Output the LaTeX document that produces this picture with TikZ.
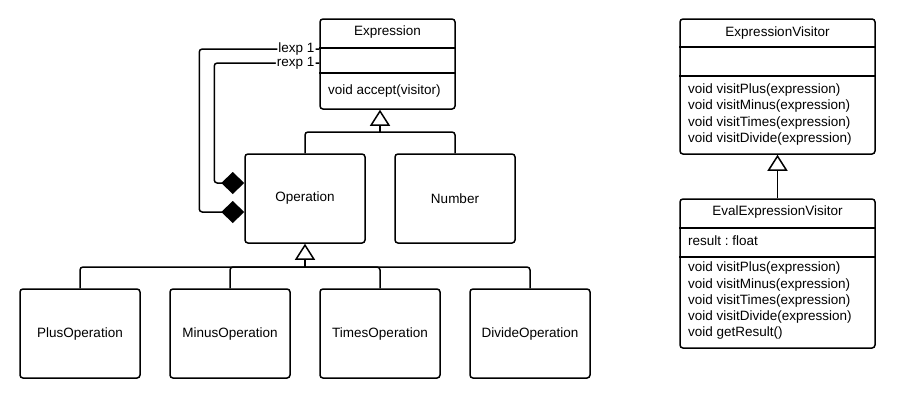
\documentclass[tikz,border=0pt]{standalone}
\usepackage{fontspec}
\setmainfont{Liberation Sans}
\usetikzlibrary{arrows.meta}
\frenchspacing

\newcommand{\umlfont}{\fontsize{13.5}{16.2}\selectfont}

\tikzstyle{classbox} = [rectangle, draw, line width=1.5pt, rounded corners=3pt,
align=center, inner sep=0pt, font=\umlfont]
\tikzstyle{title} = [inner sep=0pt, font=\umlfont]
\tikzstyle{members} = [inner sep=0pt, align=left, anchor=west, font=\umlfont]
\tikzstyle{divider} = [draw, line width=1.5pt]
\tikzstyle{line} = [draw, line width=1.5pt, rounded corners=3pt]
\tikzstyle{inherit} = [line, -{Triangle[open,length=16pt,width=20pt]}]
\tikzstyle{aggregate} = [line, -{Diamond[length=23pt,width=22pt]}]
\tikzstyle{role} = [anchor=east, xshift=-3pt, fill=white, inner sep=1pt, font=\umlfont]

\begin{document}
\begin{tikzpicture}[x=1pt,y=-1pt]

\useasboundingbox (0,0) rectangle (904,400);

% Top
\node[classbox, minimum width=135pt, minimum height=90pt](expression) at (387.5,64) {};
\node[title](expressionTitle) at (387.5,32) {Expression};
\node[members](expressionOps) at (328,91) {void accept(visitor)};
\draw[divider] (expression.west |- 0,48) -- (expression.east |- 0,48);
\draw[divider] (expression.west |- 0,73) -- (expression.east |- 0,73);

% Middle
\node[classbox, minimum width=120pt, minimum height=89pt](operation) at (305,198.5) {Operation};
\node[classbox, minimum width=120pt, minimum height=89pt](number) at (455,198.5) {Number};

% Bottom
\node[classbox, minimum width=120pt, minimum height=89pt](plusOp) at (80,333.5) {PlusOperation};
\node[classbox, minimum width=120pt, minimum height=89pt](minusOp) at (230,333.5) {MinusOperation};
\node[classbox, minimum width=120pt, minimum height=89pt](timesOp) at (380,333.5) {TimesOperation};
\node[classbox, minimum width=120pt, minimum height=89pt](divideOp) at (530,333.5) {DivideOperation};

% Visitors
\node[classbox, minimum width=195pt, minimum height=135pt](visitor) at (777.5,86.5) {};
\node[title](visitorTitle) at (777.5,33) {ExpressionVisitor};
\draw[divider] (visitor.west |- 0,47) -- (visitor.east |- 0,47);
\draw[divider] (visitor.west |- 0,76) -- (visitor.east |- 0,76);
\node[members](visitorOps) at (688,114.5) {void visitPlus(expression)\\void visitMinus(expression)\\void visitTimes(expression)\\void visitDivide(expression)};

\node[classbox, minimum width=195pt, minimum height=149pt](evalVisitor) at (777.5,273.5) {};
\node[title](evalTitle) at (777.5,212) {EvalExpressionVisitor};
\draw[divider] (evalVisitor.west |- 0,228) -- (evalVisitor.east |- 0,228);
\draw[divider] (evalVisitor.west |- 0,257) -- (evalVisitor.east |- 0,257);
\node[members](evalFields) at (688,241) {result : float};
\node[members](evalOps) at (688,300.8) {void visitPlus(expression)\\void visitMinus(expression)\\void visitTimes(expression)\\void visitDivide(expression)\\void getResult()};

% Generalisation
\coordinate (topJoin) at (380,132);
\path[line] (operation.north) |- (topJoin);
\path[line] (number.north) |- (topJoin);
\path[inherit] (topJoin) -- ([xshift=-7.5pt]expression.south);

\coordinate (bottomJoin) at (305,267);
\path[line] (plusOp.north) |- (bottomJoin);
\path[line] (minusOp.north) |- (bottomJoin);
\path[line] (timesOp.north) |- (bottomJoin);
\path[line] (divideOp.north) |- (bottomJoin);
\path[inherit] (bottomJoin) -- (operation.south);

\path[inherit] (evalVisitor.north) -- (visitor.south);

% Aggregation
\path[aggregate] ([yshift=15pt]expression.west) node[role](lexpLabel){lexp 1}
	-| ([xshift=-45pt,yshift=-13.5pt]operation.west) -- ([yshift=-13.5pt]operation.west);
\path[aggregate] ([yshift=1pt]expression.west) node[role](rexpLabel){rexp 1}
	-| ([xshift=-30pt,yshift=15.5pt]operation.west) -- ([yshift=15.5pt]operation.west);

\end{tikzpicture}
\end{document}
